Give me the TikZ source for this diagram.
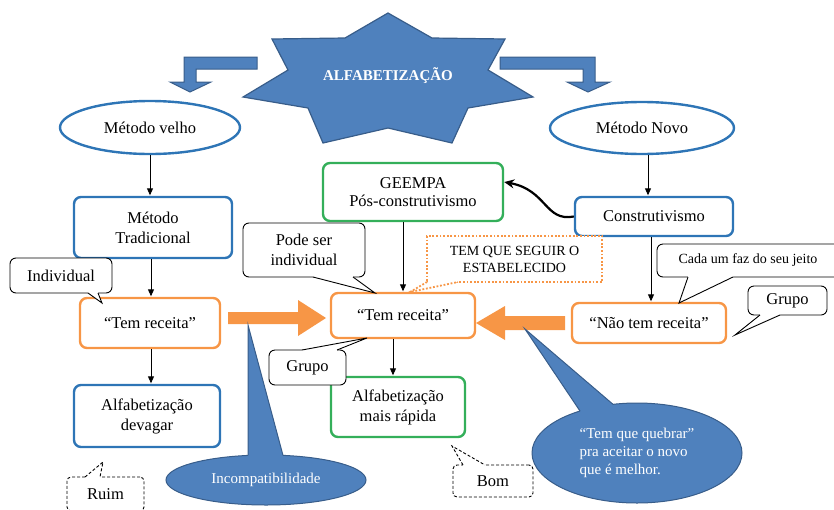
\documentclass[tikz,border=0pt]{standalone}
\usepackage{fontspec}
\setmainfont{Liberation Serif}
\usetikzlibrary{shapes.geometric,arrows.meta}
\definecolor{cblue}{RGB}{46,117,182}
\definecolor{corange}{RGB}{247,150,70}
\definecolor{cgreen}{RGB}{52,175,90}
\definecolor{sfill}{RGB}{79,129,189}
\definecolor{sdraw}{RGB}{56,93,138}
\newcommand\fntA{\fontsize{16.5}{20}\selectfont}
\newcommand\fntB{\fontsize{14}{17}\selectfont}
\newcommand\fntC{\fontsize{15}{18}\selectfont}
\begin{document}
\begin{tikzpicture}[x=1pt,y=-1pt,
  box/.style={draw, rounded corners=7pt, line width=2.4pt, inner sep=0pt, align=center, font=\fntA},
  ell/.style={ellipse, draw=cblue, line width=2.4pt, inner sep=0pt, font=\fntA},
  callbox/.style={draw=black, line width=0.9pt, rounded corners=6pt, fill=white, inner sep=0pt, align=center, font=\fntA},
  cline/.style={draw=black, line width=0.9pt, line join=miter},
  dline/.style={draw=black, line width=0.9pt, dash pattern=on 3pt off 2pt},
  oline/.style={draw=corange, line width=1.8pt, dash pattern=on 1.8pt off 1.8pt},
  bell/.style={ellipse, fill=sfill, draw=sdraw, line width=1pt, inner sep=0pt, text=white, font=\fntC},
  blk/.style={fill=sfill, draw=sdraw, line width=1pt, line join=miter},
  arr/.style={draw=black, line width=0.9pt, -{Triangle[length=7pt,width=6pt]}, shorten >=0.5pt}]
\useasboundingbox (0,0) rectangle (834,509);
\clip (0,0) rectangle (834,509);

% bent block arrows
\path[blk] (257,57) -- (184,57) -- (184,82) -- (170,82) -- (190,92) -- (211,82) -- (196,82) -- (196,69) -- (257,69) -- cycle;
\path[blk] (500,57) -- (595,57) -- (595,82) -- (610,82) -- (588,92) -- (567,82) -- (583,82) -- (583,69) -- (500,69) -- cycle;

% star
\path[blk, line width=1.2pt] (388,13) -- (432,38) -- (505,39) -- (488,70) -- (533,97) -- (468,108) -- (452,143) -- (388,128) -- (323,143) -- (308,108) -- (243,97) -- (288,70) -- (272,39) -- (345,38) -- cycle;
\node[font=\bfseries\fntC, text=white, inner sep=0pt] (alfa) at (388,76) {ALFABETIZAÇÃO};

% ellipses
\node[ell, minimum width=180pt, minimum height=53pt] (velho) at (150,127.5) {Método velho};
\node[ell, minimum width=184pt, minimum height=52pt] (novo) at (642,128) {Método Novo};

% boxes
\node[box, draw=cblue, minimum width=158pt, minimum height=61pt] (trad) at (153,227.5) {Método\\Tradicional};
\node[box, draw=corange, minimum width=140pt, minimum height=50pt] (teml) at (150,323) {“Tem receita”};
\node[box, draw=cblue, minimum width=146pt, minimum height=62pt] (devagar) at (147,416) {Alfabetização\\devagar};
\node[box, draw=corange, minimum width=144pt, minimum height=45pt] (temc) at (403,315.5) {“Tem receita”};
\node[box, draw=cgreen, minimum width=134pt, minimum height=60pt] (rapida) at (398,407) {Alfabetização\\mais rápida};
\node[box, draw=cgreen, minimum width=180pt, minimum height=58pt] (geempa) at (413,192) {GEEMPA\\[-2pt]Pós-construtivismo};
\node[box, draw=cblue, minimum width=158pt, minimum height=39pt] (constr) at (654,216.5) {Construtivismo};
\node[box, draw=corange, minimum width=154pt, minimum height=40pt] (naotem) at (649,323) {“Não tem receita”};

% thin arrows
\draw[arr] (velho.south) -- (velho.south |- trad.north);
\draw[arr] ([xshift=-2pt]trad.south) -- ([xshift=-2pt]trad.south |- teml.north);
\draw[arr] ([xshift=1pt]teml.south) -- ([xshift=1pt]teml.south |- devagar.north);
\draw[arr] ([xshift=-10pt]temc.south) -- ([xshift=-10pt]temc.south |- rapida.north);
\draw[arr] ([xshift=-10pt]geempa.south) -- ([xshift=-10pt]geempa.south |- temc.north);
\draw[arr] ([xshift=6pt]novo.south) -- ([xshift=6pt]novo.south |- constr.north);
\draw[arr] ([xshift=-3pt]constr.south) -- ([xshift=-3pt]constr.south |- naotem.north);

% curved thick arrow
\draw[line width=2.2pt, -{Stealth[length=10pt,width=9pt]}] (constr.west) .. controls (545,222) and (547,190) .. ([yshift=10pt]geempa.east);

% big orange arrows
\fill[corange] (228,312) -- (298,312) -- (298,300) -- (326,318) -- (298,336) -- (298,324) -- (228,324) -- cycle;
\fill[corange] (565,316) -- (505,316) -- (505,306) -- (476,323) -- (505,340) -- (505,330) -- (565,330) -- cycle;

% callouts
\node[callbox, minimum width=102pt, minimum height=35pt] (indiv) at (61,275.5) {Individual};
\fill[white] (88,290) -- (88,293) -- (102,303) -- (98,293) -- (98,290) -- cycle;
\draw[cline] (88,293) -- (102,303) -- (98,293);

\node[callbox, minimum width=122pt, minimum height=54pt] (podeser) at (304,250) {Pode ser\\individual};
\fill[white] (313,274) -- (313,277) -- (375,293) -- (353,277) -- (353,274) -- cycle;
\draw[cline] (313,277) -- (375,293) -- (353,277);

\node[callbox, minimum width=77pt, minimum height=35pt] (grupoc) at (307.5,367.5) {Grupo};
\fill[white] (302,353) -- (302,350) -- (367,338) -- (337,350) -- (337,353) -- cycle;
\draw[cline] (302,350) -- (367,338) -- (337,350);

\node[callbox, minimum width=185pt, minimum height=33pt, font=\fntB] (cada) at (749.5,260.5) {\hspace*{-3pt}Cada um faz do seu jeito};
\fill[white] (688,274) -- (688,277) -- (679,303) -- (733,277) -- (733,274) -- cycle;
\draw[cline] (688,277) -- (679,303) -- (733,277);

\node[callbox, minimum width=79pt, minimum height=29pt] (grupor) at (787.5,300.5) {Grupo};
\fill[white] (760,312) -- (760,315) -- (735,335) -- (780,315) -- (780,312) -- cycle;
\draw[cline] (760,315) -- (735,335) -- (780,315);

\node[oline, fill=white, minimum width=175pt, minimum height=46pt, inner sep=0pt, align=center, font=\fntB] (seguir) at (514.5,259) {TEM QUE SEGUIR O\\ESTABELECIDO};
\fill[white] (428,279) -- (428,282) -- (410,292) -- (458,282) -- (458,279) -- cycle;
\draw[oline] (427,282) -- (410,292) -- (458,282);

\node[callbox, dash pattern=on 3pt off 2pt, rounded corners=4pt, minimum width=77pt, minimum height=34pt] (ruim) at (105.5,494) {Ruim};
\fill[white] (85,480) -- (85,477) -- (103,462) -- (100,477) -- (100,480) -- cycle;
\draw[dline] (85,477) -- (103,462) -- (100,477);

\node[callbox, dash pattern=on 3pt off 2pt, rounded corners=4pt, minimum width=80pt, minimum height=32pt] (bom) at (493,481) {Bom};
\fill[white] (463,468) -- (463,465) -- (452,446) -- (485,465) -- (485,468) -- cycle;
\draw[dline] (463,465) -- (452,446) -- (485,465);

% blue ellipse callouts
\node[bell, minimum width=200pt, minimum height=50pt] (incomp) at (266,480) {Incompatibilidade};
\fill[sfill] (249,461) -- (248,455.4) -- (248,325) -- (283,455.4) -- (282,461) -- cycle;
\draw[draw=sdraw, line width=1pt, line join=miter] (248,455.4) -- (248,325) -- (283,455.4);

\node[bell, minimum width=210pt, minimum height=100pt, align=left] (quebrar) at (637,453) {“Tem que quebrar”\\pra aceitar o novo\\que é melhor.};
\fill[sfill] (583,417) -- (580,411) -- (525,329) -- (613,404.3) -- (614,410) -- cycle;
\draw[draw=sdraw, line width=1pt, line join=miter] (580,411) -- (525,329) -- (613,404.3);
\end{tikzpicture}
\end{document}
